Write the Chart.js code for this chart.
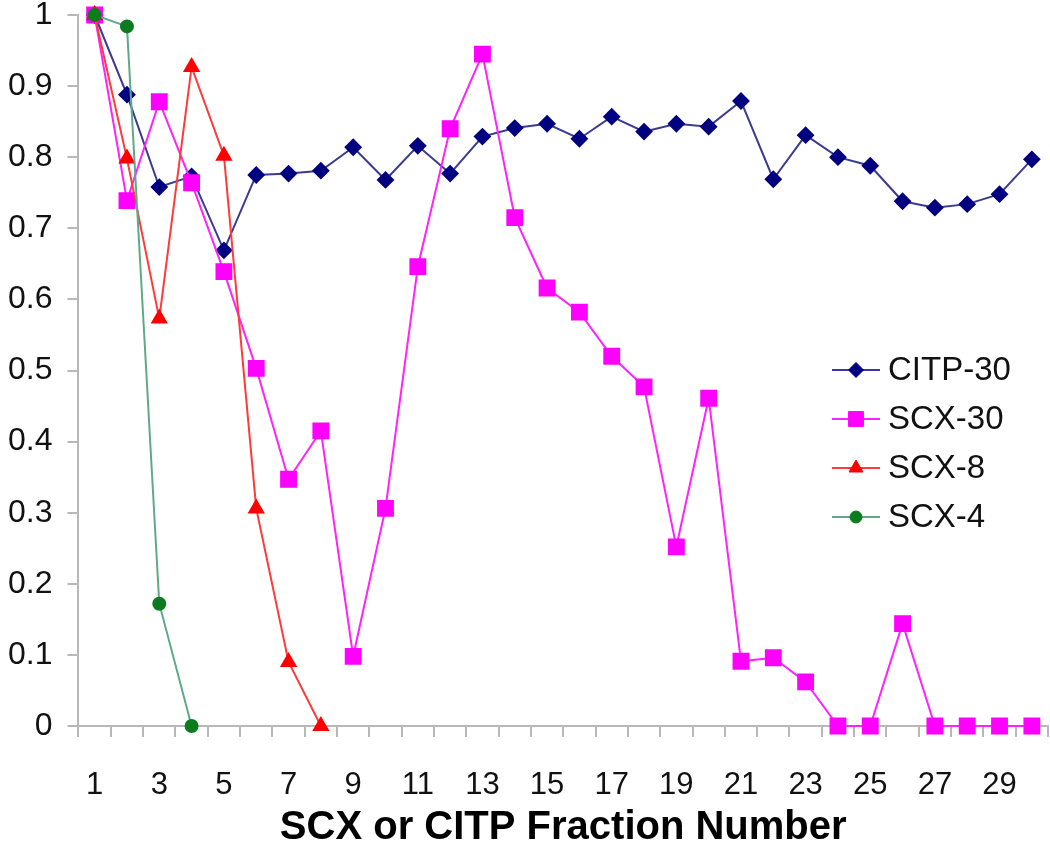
<!DOCTYPE html>
<html>
<head>
<meta charset="utf-8">
<script src="https://cdn.jsdelivr.net/npm/chart.js"></script>
<style>
  html, body { margin: 0; padding: 0; background: #fff; }
</style>
</head>
<body>
<canvas id="fractionline" width="1050" height="846"></canvas>
<script>
const fractions = ['1','2','3','4','5','6','7','8','9','10','11','12','13','14','15','16','17','18','19','20','21','22','23','24','25','26','27','28','29','30'];
const xTickLabels = ['1','3','5','7','9','11','13','15','17','19','21','23','25','27','29'];
const yTickLabels = ['0','0.1','0.2','0.3','0.4','0.5','0.6','0.7','0.8','0.9','1'];

const citp30 = [1.0, 0.888, 0.758, 0.773, 0.669, 0.775, 0.777, 0.781, 0.814, 0.768, 0.816, 0.777, 0.829, 0.841, 0.847, 0.826, 0.857, 0.836, 0.847, 0.843, 0.879, 0.769, 0.831, 0.800, 0.788, 0.738, 0.729, 0.734, 0.748, 0.797];
const scx30 = [1.0, 0.739, 0.878, 0.764, 0.639, 0.503, 0.347, 0.415, 0.098, 0.306, 0.646, 0.840, 0.945, 0.715, 0.616, 0.582, 0.520, 0.477, 0.252, 0.461, 0.091, 0.096, 0.062, 0, 0, 0.144, 0, 0, 0, 0];
const scx8 = [1.0, 0.798, 0.573, 0.927, 0.802, 0.306, 0.090, 0];
const scx4 = [1.0, 0.984, 0.172, 0];

const fontFamily = '"Liberation Sans", Arial, Helvetica, sans-serif';
const axisGrey = '#b8b8b8';
const xLabelGap = 33;
const yLabelGap = 15;

// legend drawn inside the plot, on the right
const insideLegend = {
  id: 'insideLegend',
  afterDraw(chart) {
    const ctx = chart.ctx;
    const area = chart.chartArea;
    const x0 = area.right - 216;
    let y = area.top + 355;
    ctx.save();
    ctx.font = '33px ' + fontFamily;
    ctx.textBaseline = 'middle';
    ctx.textAlign = 'left';
    [0, 1, 2, 3].forEach(i => {
      const ds = chart.data.datasets[i];
      ctx.strokeStyle = ds.borderColor;
      ctx.lineWidth = ds.borderWidth;
      ctx.beginPath();
      ctx.moveTo(x0, y);
      ctx.lineTo(x0 + 48, y);
      ctx.stroke();
      ctx.fillStyle = ds.pointBackgroundColor;
      ctx.strokeStyle = ds.pointBorderColor;
      ctx.lineWidth = 1;
      if (Chart.helpers && Chart.helpers.drawPoint) {
        Chart.helpers.drawPoint(ctx, {pointStyle: ds.pointStyle, radius: ds.pointRadius, rotation: 0, borderWidth: 1}, x0 + 24, y);
      } else {
        ctx.beginPath();
        ctx.arc(x0 + 24, y, ds.pointRadius, 0, Math.PI * 2);
        ctx.fill();
      }
      ctx.fillStyle = '#111';
      ctx.fillText(ds.label, x0 + 56, y + 1);
      y += 49;
    });
    ctx.restore();
  }
};

new Chart(document.getElementById('fractionline'), {
  type: 'line',
  data: {
    labels: fractions,
    datasets: [{
        data: citp30,
        label: 'CITP-30',
        borderColor: '#3a3a92',
        borderWidth: 2,
        pointStyle: 'rectRot',
        pointRadius: 7.5,
        pointBackgroundColor: '#000080',
        pointBorderColor: '#000080',
        order: 3,
        clip: false,
        fill: false
      }, {
        data: scx30,
        label: 'SCX-30',
        borderColor: '#ff22ff',
        borderWidth: 2,
        pointStyle: 'rect',
        pointRadius: 10.5,
        pointBackgroundColor: '#ff00ff',
        pointBorderColor: '#ff00ff',
        order: 2,
        clip: false,
        fill: false
      }, {
        data: scx8,
        label: 'SCX-8',
        borderColor: '#ff3a3a',
        borderWidth: 2,
        pointStyle: 'triangle',
        pointRadius: 8,
        pointBackgroundColor: '#ff0000',
        pointBorderColor: '#ff0000',
        order: 1,
        clip: false,
        fill: false
      }, {
        data: scx4,
        label: 'SCX-4',
        borderColor: '#5fa98a',
        borderWidth: 2,
        pointStyle: 'circle',
        pointRadius: 6,
        pointBackgroundColor: '#0b7d1f',
        pointBorderColor: '#0b7d1f',
        order: 0,
        clip: false,
        fill: false
      }
    ]
  },
  options: {
    responsive: false,
    animation: false,
    devicePixelRatio: 1,
    layout: { autoPadding: false, padding: { left: 8, right: 2, top: 0, bottom: 0 } },
    elements: { line: { tension: 0 } },
    plugins: {
      legend: { display: false },
      tooltip: { enabled: false }
    },
    scales: {
      x: {
        offset: true,
        // tick padding is counted twice when fitting, take one back
        afterFit: (scale) => { scale.paddingLeft = 0; scale.paddingRight = 0; scale.height -= xLabelGap; },
        grid: { offset: true, drawOnChartArea: false, drawTicks: true, tickLength: 11, color: axisGrey, lineWidth: 2 },
        border: { display: true, color: axisGrey, width: 2 },
        ticks: {
          autoSkip: false,
          maxRotation: 0,
          padding: xLabelGap,
          color: '#111',
          font: { family: fontFamily, size: 31, lineHeight: 1 },
          callback: (value, index) => xTickLabels.includes(fractions[index]) ? fractions[index] : ''
        },
        title: {
          display: true,
          text: 'SCX or CITP Fraction Number',
          color: '#000',
          font: { family: fontFamily, size: 40, weight: 'bold', lineHeight: 0.9 },
          padding: { top: 9, bottom: 0 }
        }
      },
      y: {
        min: 0,
        max: 1,
        afterFit: (scale) => { scale.paddingTop = 15; scale.paddingBottom = 0; scale.width -= yLabelGap; },
        grid: { drawOnChartArea: false, drawTicks: true, tickLength: 11, color: axisGrey, lineWidth: 2 },
        border: { display: true, color: axisGrey, width: 2 },
        ticks: {
          stepSize: 0.1,
          padding: yLabelGap,
          color: '#111',
          font: { family: fontFamily, size: 32, lineHeight: 1 },
          callback: (value, index) => yTickLabels[index]
        }
      }
    }
  },
  plugins: [insideLegend]
});
</script>
</body>
</html>
